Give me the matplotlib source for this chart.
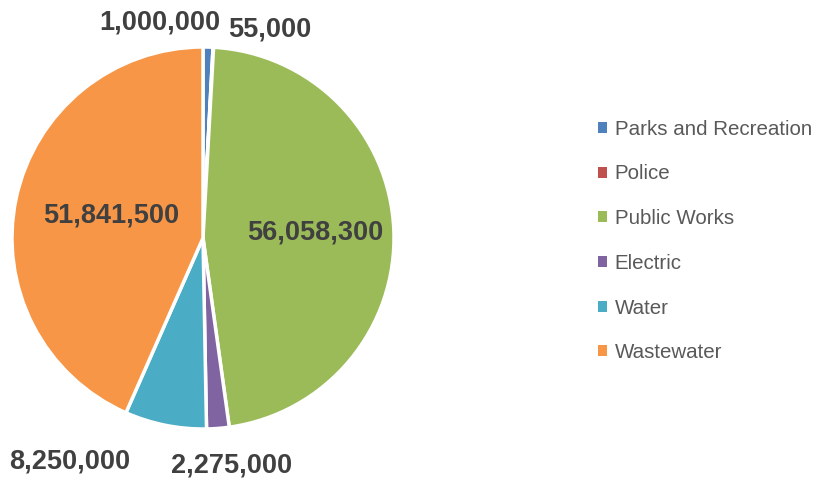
import matplotlib.pyplot as plt
from matplotlib.patches import Patch

departments = ['Parks and Recreation', 'Police', 'Public Works', 'Electric', 'Water', 'Wastewater']
amounts = [1000000, 55000, 56058300, 2275000, 8250000, 51841500]
colors = ['#4F81BD', '#C0504D', '#9BBB59', '#8064A2', '#4BACC6', '#F79646']

# label anchor points, in units of the pie radius
label_xy = [(-0.225, 1.13), (0.35, 1.09), (0.59, 0.03),
            (0.15, -1.19), (-0.70, -1.17), (-0.48, 0.12)]

plt.rcParams['font.family'] = ['Liberation Sans', 'DejaVu Sans']

fig = plt.figure(figsize=(8.2, 4.83), dpi=100)
ax = fig.add_axes([12 / 820, 54 / 483, 382 / 820, 382 / 483])

wedges, _ = ax.pie(amounts, colors=colors, startangle=90, counterclock=False,
                   radius=1, wedgeprops=dict(edgecolor='white', linewidth=2.5))
ax.set_xlim(-1, 1)
ax.set_ylim(-1, 1)
ax.set_aspect('equal')

for val, (x, y) in zip(amounts, label_xy):
    ax.text(x, y, f'{val:,}', ha='center', va='center', fontsize=19.5,
            fontweight='bold', color='#404040', clip_on=False)

handles = [Patch(facecolor=c, edgecolor='none') for c in colors]
fig.legend(handles, departments, loc='center left', bbox_to_anchor=(590 / 820, 242 / 483),
           frameon=False, fontsize=14.8, labelcolor='#595959',
           handlelength=0.45, handleheight=0.45, handletextpad=0.35,
           labelspacing=1.25, borderaxespad=0)

fig.savefig('out.png', dpi=100)
